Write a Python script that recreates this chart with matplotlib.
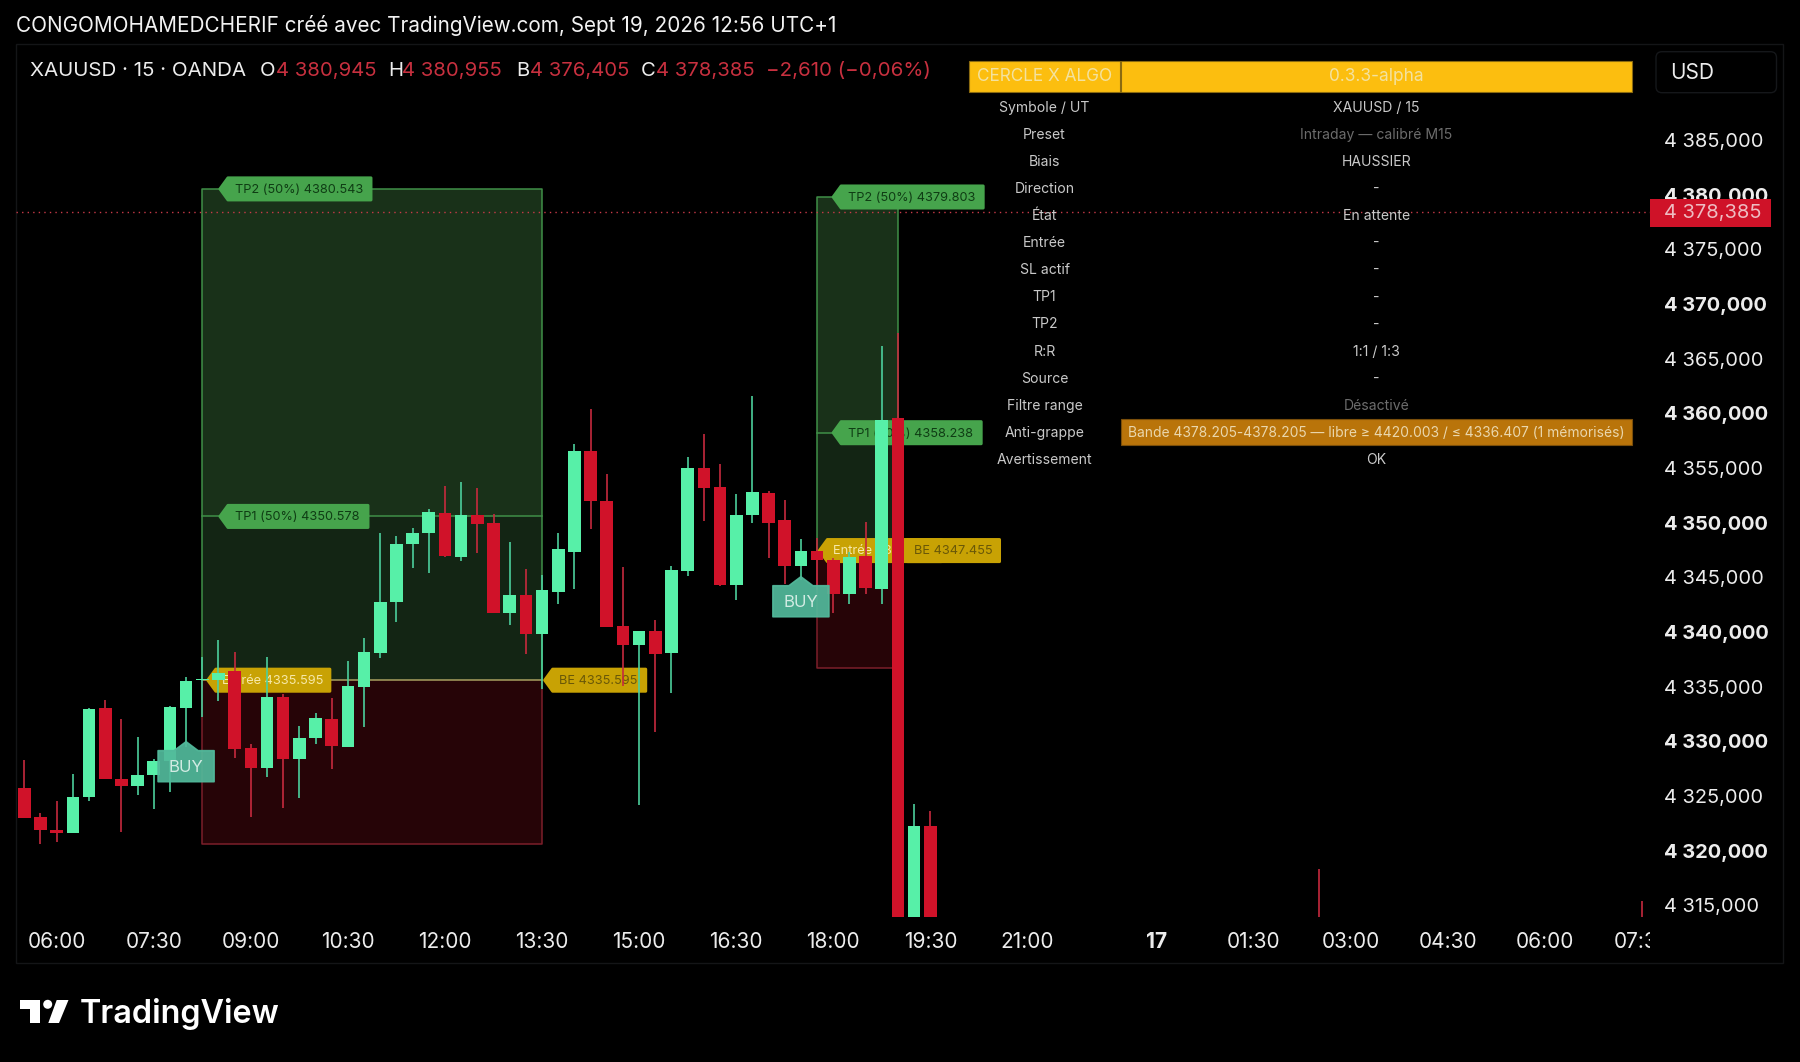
import matplotlib
matplotlib.use('Agg')
import matplotlib.pyplot as plt
from matplotlib.patches import Rectangle, Polygon, FancyBboxPatch
from matplotlib.transforms import IdentityTransform, Bbox

W, H = 1800, 1062
plt.rcParams['font.family'] = ['Inter', 'DejaVu Sans']

# candles (bar index, 15 min bars, first bar = 05:30)
bar_idx = list(range(57)) + [80, 100]
opens = [4325.70, 4323.05, 4321.89, 4321.58, 4324.88, 4333.02, 4326.58, 4325.88, 4326.92, 4328.20,
         4333.02, 4335.65, 4335.61, 4336.44, 4329.36, 4327.53, 4334.06, 4328.35, 4330.27, 4332.07,
         4329.51, 4334.94, 4338.11, 4342.78, 4348.05, 4349.03, 4350.89, 4346.83, 4350.71, 4349.98,
         4341.74, 4343.39, 4339.85, 4343.69, 4347.29, 4356.59, 4351.96, 4340.55, 4338.81, 4340.07,
         4338.05, 4345.55, 4355.01, 4353.27, 4344.30, 4350.68, 4352.75, 4350.25, 4346.01, 4347.41,
         4346.56, 4343.48, 4346.96, 4343.97, 4359.55, 4309.00, 4322.26, 4312.00, 4312.00]
highs = [4328.29, 4323.41, 4324.57, 4326.98, 4333.05, 4333.78, 4332.04, 4330.37, 4328.35, 4333.23,
         4335.92, 4337.75, 4339.27, 4338.17, 4329.73, 4337.75, 4334.30, 4331.40, 4332.62, 4333.93,
         4337.35, 4339.45, 4349.03, 4348.79, 4349.55, 4351.23, 4353.39, 4353.76, 4353.15, 4350.83,
         4348.21, 4345.74, 4345.19, 4349.03, 4357.20, 4360.41, 4354.43, 4345.95, 4340.07, 4341.10,
         4346.04, 4355.98, 4358.12, 4355.34, 4352.60, 4361.60, 4352.90, 4352.08, 4348.48, 4348.57,
         4346.74, 4347.35, 4350.07, 4366.20, 4367.36, 4324.24, 4323.66, 4318.32, 4315.40]
lows = [4322.96, 4320.61, 4320.76, 4321.58, 4324.51, 4326.58, 4321.67, 4325.06, 4323.84, 4325.40,
        4329.51, 4332.20, 4333.72, 4328.51, 4323.11, 4326.77, 4323.93, 4324.82, 4329.76, 4327.47,
        4329.51, 4331.34, 4337.59, 4340.92, 4345.86, 4345.43, 4346.90, 4346.50, 4347.26, 4341.74,
        4340.61, 4337.99, 4334.76, 4342.57, 4343.91, 4349.46, 4340.46, 4335.09, 4324.21, 4330.86,
        4334.45, 4345.13, 4350.16, 4344.24, 4342.93, 4350.01, 4346.77, 4344.40, 4344.76, 4343.85,
        4341.74, 4342.57, 4343.51, 4342.57, 4306.00, 4308.00, 4308.00, 4311.00, 4311.00]
closes = [4322.96, 4321.89, 4321.58, 4324.94, 4332.96, 4326.58, 4325.91, 4326.89, 4328.20, 4333.17,
          4335.49, 4335.70, 4336.22, 4329.33, 4327.53, 4334.06, 4328.41, 4330.27, 4332.10, 4329.57,
          4335.03, 4338.17, 4342.78, 4348.05, 4349.09, 4350.98, 4346.96, 4350.68, 4349.91, 4341.74,
          4343.39, 4339.85, 4343.82, 4347.60, 4356.53, 4351.99, 4340.46, 4338.81, 4340.07, 4337.99,
          4345.65, 4355.01, 4353.21, 4344.30, 4350.74, 4352.78, 4350.01, 4346.07, 4347.41, 4346.56,
          4343.51, 4346.90, 4344.00, 4359.40, 4308.00, 4322.26, 4309.00, 4310.00, 4310.00]

# trade zones
zone_start = [11, 49]
zone_end = [32, 54]
zone_tp2 = [4380.543, 4379.803]
zone_tp1 = [4350.578, 4358.238]
zone_entry = [4335.595, 4347.455]
zone_sl = [4320.61, 4336.71]

# buy signals: bar and price of the arrow tip
buy_idx = [10, 48]
buy_price = [4329.97, 4345.06]

last_price = 4378.385

price_ticks = [4385, 4380, 4375, 4370, 4365, 4360, 4355, 4350, 4345, 4340, 4335, 4330, 4325, 4320, 4315]
time_idx = [2, 8, 14, 20, 26, 32, 38, 44, 50, 56, 62, 70, 76, 82, 88, 94, 100]
time_labels = ['06:00', '07:30', '09:00', '10:30', '12:00', '13:30', '15:00', '16:30', '18:00',
               '19:30', '21:00', '17', '01:30', '03:00', '04:30', '06:00', '07:30']

table_left = ['Symbole / UT', 'Preset', 'Biais', 'Direction', 'État', 'Entrée', 'SL actif', 'TP1', 'TP2',
              'R:R', 'Source', 'Filtre range', 'Anti-grappe', 'Avertissement']
table_right = ['XAUUSD / 15', 'Intraday — calibré M15', 'HAUSSIER', '-', 'En attente', '-', '-', '-', '-',
               '1:1 / 1:3', '-', 'Désactivé',
               'Bande 4378.205-4378.205 — libre ≥ 4420.003 / ≤ 4336.407 (1 mémorisés)', 'OK']

GREEN = '#57f0a8'
GREEN_WICK = '#4ccf9c'
RED = '#d01229'
RED_WICK = '#c62a3e'
TEXT = '#ececec'
PIX = IdentityTransform()


def fmt_price(v):
    s = '%.3f' % v
    return s[0] + ' ' + s[1:].replace('.', ',')


fig = plt.figure(figsize=(W / 100, H / 100), dpi=100, facecolor='black')
ax = fig.add_axes([16 / W, 1 - 917 / H, (1650 - 16) / W, (917 - 44) / H], facecolor='black')
ax.set_xlim(-0.513, 100.48)
ax.set_ylim(4313.93, 4393.80)
for s in ax.spines.values():
    s.set_visible(False)


def ptext(x, y, s, **kw):
    # text placed in pixels, y counted from the top like in the screenshot
    kw.setdefault('va', 'center')
    kw.setdefault('color', TEXT)
    return ax.text(x, H - y, s, transform=PIX, clip_on=False, **kw)


def prect(x0, y0, x1, y1, zorder=1, **kw):
    ax.add_patch(Rectangle((x0, H - y1), x1 - x0, y1 - y0, transform=PIX, clip_on=False, zorder=zorder, **kw))


def tag(idx, price, text, width, face, color, zorder=3):
    # label with a pointed left edge, anchored on the chart
    tip, cy = ax.transData.transform((idx, price))
    r = tip + width - 1.5
    l = tip + 1.5
    hh = 11
    ax.add_patch(Polygon([(l, cy), (l + 8, cy + hh), (r, cy + hh), (r, cy - hh), (l + 8, cy - hh)],
                         closed=True, transform=PIX, facecolor=face, edgecolor=face, lw=2.2,
                         joinstyle='round', zorder=zorder, clip_on=False))
    ax.text((l + 7 + r) / 2, cy - 0.8, text, transform=PIX, ha='center', va='center', fontsize=9.2,
            color=color, zorder=zorder + 0.1, clip_on=False)


# zones
for i in range(2):
    x0, x1 = zone_start[i], zone_end[i]
    ax.add_patch(Rectangle((x0, zone_tp1[i]), x1 - x0, zone_tp2[i] - zone_tp1[i], facecolor='#193119',
                           edgecolor='none', zorder=1))
    ax.add_patch(Rectangle((x0, zone_entry[i]), x1 - x0, zone_tp1[i] - zone_entry[i], facecolor='#132514',
                           edgecolor='none', zorder=1))
    ax.add_patch(Rectangle((x0, zone_sl[i]), x1 - x0, zone_entry[i] - zone_sl[i], facecolor='#260407',
                           edgecolor='none', zorder=1))
    ax.plot([x0, x0, x1, x1], [zone_entry[i], zone_tp2[i], zone_tp2[i], zone_entry[i]], color='#3f8f47', lw=1.1, zorder=2)
    ax.plot([x0, x1], [zone_tp1[i]] * 2, color='#3f8f47', lw=1.1, zorder=2)
    ax.plot([x0, x0, x1, x1], [zone_entry[i], zone_sl[i], zone_sl[i], zone_entry[i]], color='#7c1f2a', lw=1.1, zorder=2)
    ax.plot([x0, x1], [zone_entry[i]] * 2, color='#a8a060', lw=1.1, zorder=2)

# labels of the zones, under the candles
tag(12, zone_tp2[0], 'TP2 (50%%) %.3f' % zone_tp2[0], 154, '#46a44c', '#0f3d14')
tag(12, zone_tp1[0], 'TP1 (50%%) %.3f' % zone_tp1[0], 151, '#46a44c', '#0f3d14')
tag(11.25, zone_entry[0], 'Entrée %.3f' % zone_entry[0], 125, '#c8a204', '#f6e8a8')
tag(32.07, zone_entry[0], 'BE %.3f' % zone_entry[0], 104, '#c8a204', '#6a5808')
tag(49.9, zone_tp2[1], 'TP2 (50%%) %.3f' % zone_tp2[1], 153, '#46a44c', '#0f3d14')
tag(49.9, zone_tp1[1], 'TP1 (50%%) %.3f' % zone_tp1[1], 151, '#46a44c', '#0f3d14')
tag(49.05, zone_entry[1], 'Entrée %.3f' % zone_entry[1], 125, '#c8a204', '#f6e8a8')
tag(54, zone_entry[1], 'BE %.3f' % zone_entry[1], 103, '#c8a204', '#6a5808', zorder=3.5)

# candles
up = [c >= o for o, c in zip(opens, closes)]
ax.vlines(bar_idx, lows, highs, colors=[GREEN_WICK if u else RED_WICK for u in up], lw=1.2, zorder=4)
ax.bar(bar_idx, [max(abs(c - o), 0.08) for o, c in zip(opens, closes)], bottom=[min(o, c) for o, c in zip(opens, closes)],
       width=0.78, color=[GREEN if u else RED for u in up], zorder=5)

# buy signals
for b, p in zip(buy_idx, buy_price):
    tx, ty = ax.transData.transform((b, p))
    ax.add_patch(Polygon([(tx, ty), (tx + 12, ty - 9), (tx + 28, ty - 9), (tx + 28, ty - 40), (tx - 28, ty - 40),
                          (tx - 28, ty - 9), (tx - 12, ty - 9)], closed=True, transform=PIX,
                         facecolor='#52b99b', edgecolor='#52b99b', lw=1.2, joinstyle='round', alpha=0.93, zorder=6))
    ax.text(tx, ty - 26, 'BUY', transform=PIX, ha='center', va='center', fontsize=12, color='#d2ebe3', zorder=6.1)

# last price line
ax.axhline(last_price, color='#c83a48', lw=1.0, ls=(0, (1, 3)), zorder=8)

# axes
ax.yaxis.tick_right()
ax.set_yticks(price_ticks)
ax.set_yticklabels([fmt_price(p) for p in price_ticks])
ax.tick_params(axis='y', length=0, pad=10, labelsize=14.4, labelcolor=TEXT)
for lab, p in zip(ax.get_yticklabels(), price_ticks):
    if p % 10 == 0:
        lab.set_fontweight('bold')
ax.set_xticks(time_idx)
ax.set_xticklabels(time_labels)
ax.tick_params(axis='x', length=0, pad=11, labelsize=15, labelcolor=TEXT)
for lab, t in zip(ax.get_xticklabels(), time_labels):
    if t == '17':
        lab.set_fontweight('bold')
    lab.set_clip_box(Bbox([[0, 0], [1650, H]]))
    lab.set_clip_on(True)

# last price tag on the scale
prect(1650, 199, 1771, 227, zorder=9, facecolor='#cf1228', edgecolor='none')
ptext(1663.5, 213, fmt_price(last_price), fontsize=14.4, color='#eebcc2', zorder=10)

# table
prect(969, 60.7, 1119.8, 91.7, zorder=9, facecolor='#fcbe0f', edgecolor='#8a6a10', lw=0.8)
prect(1120.8, 60.7, 1632, 91.7, zorder=9, facecolor='#fcbe0f', edgecolor='#8a6a10', lw=0.8)
ptext(1044.5, 76.5, 'CERCLE X ALGO', ha='center', fontsize=12.4, color='#f3e2a0', zorder=10)
ptext(1376.5, 76.5, '0.3.3-alpha', ha='center', fontsize=12.4, color='#f3e2a0', zorder=10)
prect(1120.8, 419, 1632, 445, zorder=9, facecolor='#b9740a', edgecolor='#7a4e0a', lw=0.8)
for n, (a, b) in enumerate(zip(table_left, table_right)):
    y = 107.7 + 27.1 * n
    ptext(1044.5, y, a, ha='center', fontsize=10.1, color='#c9c9c9', zorder=10)
    col = '#6c6c6c' if b in ('Intraday — calibré M15', 'Désactivé') else '#c9c9c9'
    size = 10.1
    if b.startswith('Bande'):
        col = '#ead7ad'
        size = 9.95
    ptext(1376.5, y, b, ha='center', fontsize=size, color=col, zorder=10)

# header and legend
ptext(16.5, 26, 'CONGOMOHAMEDCHERIF créé avec TradingView.com, Sept 19, 2026 12:56 UTC+1', fontsize=14.9, color='#f2f2f2')
ptext(30, 71, 'XAUUSD · 15 · OANDA', fontsize=14.8, zorder=10)
LEG_RED = '#c8303f'
for x, s in zip([259.5, 388, 516, 640.5], 'OHBC'):
    ptext(x, 71, s, fontsize=14.6, zorder=10)
for x, v in zip([275.5, 402.5, 530, 656.5], [4380.945, 4380.955, 4376.405, last_price]):
    ptext(x, 71, fmt_price(v), fontsize=14.6, color=LEG_RED, zorder=10)
ptext(766, 71, '−2,610 (−0,06%)', fontsize=14.8, color=LEG_RED, zorder=10)

# currency box
ax.add_patch(FancyBboxPatch((1656, H - 92.7), 120.5, 41, boxstyle='round,pad=0,rounding_size=6', transform=PIX,
                            facecolor='black', edgecolor='#15171a', lw=1, clip_on=False))
ptext(1670, 73, 'USD', fontsize=15)

# pane frame
prect(16, 44, 1783, 963, zorder=0.5, facecolor='none', edgecolor='#141517', lw=1)

# TradingView logo
prect(20, 1000, 40, 1008.5, zorder=9, facecolor='white', edgecolor='none')
prect(30, 1000, 40, 1023, zorder=9, facecolor='white', edgecolor='none')
ax.add_patch(Polygon([(56.7, H - 1000), (68.5, H - 1000), (59, H - 1023), (48.3, H - 1023)], closed=True, transform=PIX,
                     facecolor='white', edgecolor='none', clip_on=False))
ax.add_patch(plt.Circle((47.7, H - 1004.3), 4.5, transform=PIX, facecolor='white', edgecolor='none', clip_on=False))
ptext(80, 1014, 'TradingView', fontsize=23.3, fontweight='semibold', color='white')

fig.savefig('out.png', facecolor='black')
